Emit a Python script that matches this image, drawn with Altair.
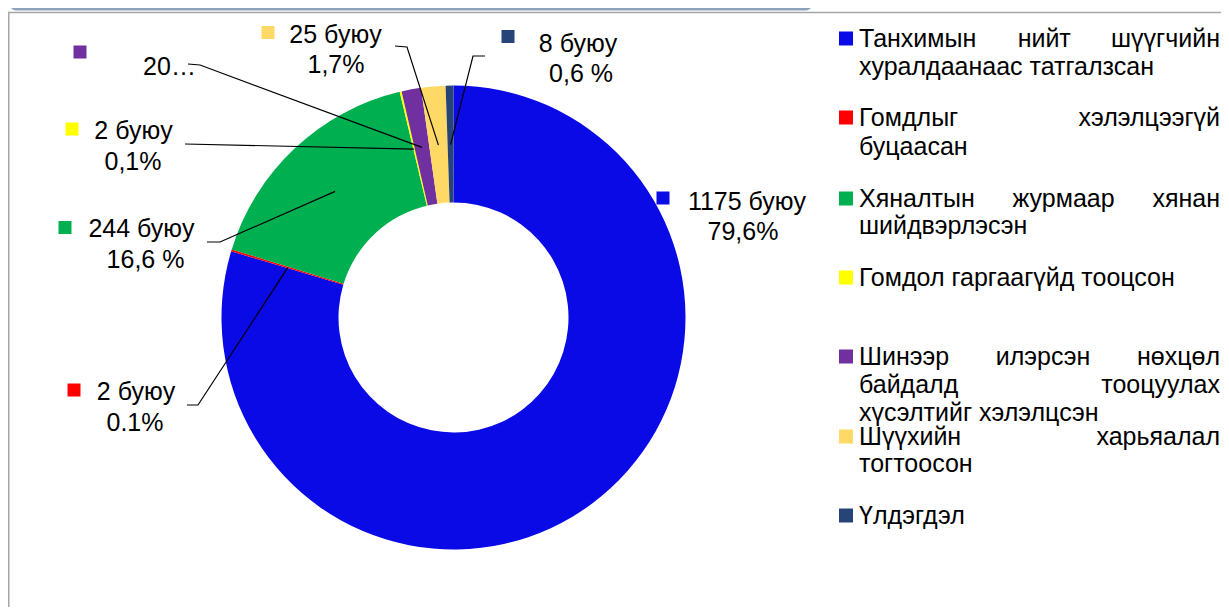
import math
import altair as alt
import pandas as pd

# ---------------- data ----------------
categories = [
    "Танхимын нийт шүүгчийн хуралдаанаас татгалзсан",
    "Гомдлыг хэлэлцээгүй буцаасан",
    "Хяналтын журмаар хянан шийдвэрлэсэн",
    "Гомдол гаргаагүйд тооцсон",
    "Шинээр илэрсэн нөхцөл байдалд тооцуулах хүсэлтийг хэлэлцсэн",
    "Шүүхийн харьяалал тогтоосон",
    "Үлдэгдэл",
]
values = [1175, 2, 244, 2, 20, 25, 8]
colors = ["#0A0AE6", "#FF0000", "#00B050", "#FFFF00", "#7030A0", "#FFD966", "#264478"]
label_line1 = ["1175 буюу", "2 буюу", "244 буюу", "2 буюу", "", "25 буюу", "8 буюу"]
label_line2 = ["79,6%", "0.1%", "16,6 %", "0,1%", "20…", "1,7%", "0,6 %"]
legend_lines = [
    ["Танхимын нийт шүүгчийн", "хуралдаанаас татгалзсан"],
    ["Гомдлыг хэлэлцээгүй", "буцаасан"],
    ["Хяналтын журмаар хянан", "шийдвэрлэсэн"],
    ["Гомдол гаргаагүйд тооцсон"],
    ["Шинээр илэрсэн нөхцөл", "байдалд тооцуулах", "хүсэлтийг хэлэлцсэн"],
    ["Шүүхийн харьяалал", "тогтоосон"],
    ["Үлдэгдэл"],
]

# ---------------- layout (page pixels) ----------------
OFF = 8
W_CH, H_CH = 1213, 599
CX, CY = 453.5 - OFF, 317.5 - OFF
R_OUT, R_IN, R_LEAD = 232, 115, 173
FS = 25
FONT = "Liberation Sans"

label_sq = [(663, 198), (74, 390), (65, 227.5), (72, 129), (80, 52), (268, 32.5), (508, 36.5)]
label_c1 = [(747, 210), (136, 400), (141.5, 237), (133.5, 139), None, (335.5, 43), (578, 52)]
label_c2 = [(743, 240), (135, 431), (145.5, 268), (133, 170), (169.5, 75), (336, 73), (581, 82)]
leader_start = [None, [(187, 405), (198, 405)], [(207, 242), (220, 242)], [(185, 144)],
                [(188, 64), (200, 65)], [(395, 46), (407, 47)], [(485, 56), (473, 56)]]

leg_base = [[47, 75], [126, 155], [207, 234], [286], [365, 393, 421], [445, 472], [524]]
LEG_X0, LEG_X1, LEG_MX = 859 - OFF, 1220 - OFF, 846 - OFF

# approximate Arial advance widths (1/1000 em)
AW = {" ": 278, "а": 556, "б": 573, "в": 531, "г": 365, "д": 583, "е": 556, "ж": 669, "з": 458,
      "и": 559, "й": 559, "к": 438, "л": 583, "м": 688, "н": 552, "о": 556, "п": 542, "р": 556,
      "с": 500, "т": 458, "у": 500, "х": 500, "ц": 573, "ч": 521, "ш": 802, "ы": 719, "ь": 521,
      "э": 510, "ю": 750, "я": 542, "ө": 556, "ү": 500, "Т": 611, "Г": 552, "Х": 667, "Ш": 906,
      "Ү": 667}


def tw(s):
    return sum(AW.get(c, 556) for c in s) / 1000 * FS


# ---------------- derived tables ----------------
df = pd.DataFrame({"cat": categories, "value": values, "idx": list(range(len(values)))})
color_scale = alt.Scale(domain=categories, range=colors)

total = sum(values)
cum = 0
lead_rows = []
for i, v in enumerate(values):
    mid = (cum + v / 2) / total * 2 * math.pi
    cum += v
    if leader_start[i] is None:
        continue
    pts = [(x - OFF, y - OFF) for x, y in leader_start[i]]
    pts.append((CX + R_LEAD * math.sin(mid), CY - R_LEAD * math.cos(mid)))
    for o, (x, y) in enumerate(pts):
        lead_rows.append({"g": i, "o": o, "x": x, "y": y})
lead_df = pd.DataFrame(lead_rows)

sq_df = pd.DataFrame({"cat": categories,
                      "x": [p[0] - OFF for p in label_sq],
                      "y": [p[1] - OFF for p in label_sq]})
t_rows = []
for i in range(len(values)):
    if label_c1[i] is not None and label_line1[i]:
        t_rows.append({"t": label_line1[i], "x": label_c1[i][0] - OFF, "y": label_c1[i][1] - OFF})
    t_rows.append({"t": label_line2[i], "x": label_c2[i][0] - OFF, "y": label_c2[i][1] - OFF})
lab_df = pd.DataFrame(t_rows)

leg_rows = []
leg_mk = []
for i, lines in enumerate(legend_lines):
    leg_mk.append({"cat": categories[i], "x": LEG_MX, "y": leg_base[i][0] - OFF - 8.5})
    for j, line in enumerate(lines):
        y = leg_base[i][j] - OFF
        words = line.split()
        if j < len(lines) - 1 and len(words) > 1:
            ws = [tw(w) for w in words]
            gap = (LEG_X1 - LEG_X0 - sum(ws)) / (len(words) - 1)
            x = LEG_X0
            for k, w in enumerate(words):
                if k == len(words) - 1:
                    leg_rows.append({"t": w, "x": LEG_X1, "y": y, "a": "r"})
                else:
                    leg_rows.append({"t": w, "x": x, "y": y, "a": "l"})
                x += ws[k] + gap
        else:
            leg_rows.append({"t": line, "x": LEG_X0, "y": y, "a": "l"})
leg_df = pd.DataFrame(leg_rows)
mk_df = pd.DataFrame(leg_mk)

X = lambda f: alt.X(f, type="quantitative", scale=None, axis=None)
Y = lambda f: alt.Y(f, type="quantitative", scale=None, axis=None)

# ---------------- layers ----------------
one = pd.DataFrame({"a": [0]})
band = alt.Chart(one).mark_rect(color="#8EA3B9", cornerRadius=6).encode(
    x=alt.value(2), x2=alt.value(804), y=alt.value(-12), y2=alt.value(2.5))
top_rule = alt.Chart(one).mark_rule(color="#A6A6A6", strokeWidth=1.5).encode(
    x=alt.value(0), x2=alt.value(W_CH), y=alt.value(4.5))
left_rule = alt.Chart(one).mark_rule(color="#A6A6A6", strokeWidth=1.5).encode(
    x=alt.value(0.75), y=alt.value(4.5), y2=alt.value(H_CH))

arc = alt.Chart(df).mark_arc(radius=R_OUT, radius2=R_IN).encode(
    theta=alt.Theta("value:Q", stack=True),
    order=alt.Order("idx:Q"),
    color=alt.Color("cat:N", scale=color_scale, legend=None),
    x=alt.value(CX), y=alt.value(CY),
)

leaders = alt.Chart(lead_df).mark_line(color="black", strokeWidth=1.2).encode(
    x=X("x"), y=Y("y"), detail="g:N", order="o:Q")

squares = alt.Chart(sq_df).mark_point(shape="square", filled=True, size=169, opacity=1).encode(
    x=X("x"), y=Y("y"), color=alt.Color("cat:N", scale=color_scale, legend=None))

labels = alt.Chart(lab_df).mark_text(font=FONT, fontSize=FS, align="center",
                                     baseline="alphabetic", color="black").encode(
    x=X("x"), y=Y("y"), text="t:N")

leg_marks = alt.Chart(mk_df).mark_point(shape="square", filled=True, size=196, opacity=1).encode(
    x=X("x"), y=Y("y"), color=alt.Color("cat:N", scale=color_scale, legend=None))

leg_left = alt.Chart(leg_df).transform_filter(alt.datum.a == "l").mark_text(
    font=FONT, fontSize=FS, align="left", baseline="alphabetic", color="black").encode(
    x=X("x"), y=Y("y"), text="t:N")
leg_right = alt.Chart(leg_df).transform_filter(alt.datum.a == "r").mark_text(
    font=FONT, fontSize=FS, align="right", baseline="alphabetic", color="black").encode(
    x=X("x"), y=Y("y"), text="t:N")

chart = alt.layer(band, top_rule, left_rule, arc, leaders, squares, labels,
                  leg_marks, leg_left, leg_right).properties(
    width=W_CH, height=H_CH, autosize=alt.AutoSizeParams(type="none"), padding=0,
    background="white",
).configure_view(stroke=None)

chart.save("out.html", embed_options={"renderer": "svg", "actions": False})
